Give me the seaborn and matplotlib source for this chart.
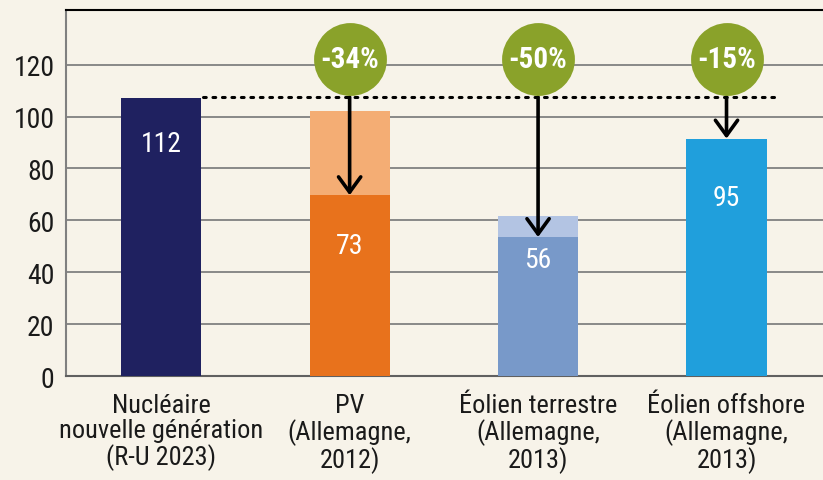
import numpy as np
import pandas as pd
import seaborn as sns
from matplotlib import pyplot as plt

# Data
categories = ["Nucléaire\nnouvelle génération\n(R-U 2023)",
              "PV\n(Allemagne,\n2012)",
              "Éolien terrestre\n(Allemagne,\n2013)",
              "Éolien offshore\n(Allemagne,\n2013)"]
before_height = [107.3, 102.0, 61.8, 91.5]   # light (earlier) level
after_height = [107.3, 69.7, 53.6, 91.5]     # dark (current) level
value_labels = ["112", "73", "56", "95"]
reduction_labels = ["-34%", "-50%", "-15%"]
reference_level = 107.5
yticks = [0, 20, 40, 60, 80, 100, 120]

# Styling
bg = "#f7f3e9"
dark_colors = ["#1f2160", "#e8721c", "#7899c9", "#209fdc"]
light_colors = ["#1f2160", "#f4ad74", "#b3c4e3", "#209fdc"]
green = "#8aa22a"
label_y = [89.5, 50.5, 45, 69]
circle_y = 122.3

sns.set_style("white")
plt.rcParams["font.family"] = ["Roboto Condensed", "DejaVu Sans"]

fig = plt.figure(figsize=(8.23, 4.81), dpi=100, facecolor=bg)
ax = fig.add_axes([0.080, 0.2156, 0.92, 0.7615])
ax.set_facecolor(bg)

df = pd.DataFrame({"cat": categories, "before": before_height, "after": after_height})
sns.barplot(data=df, x="cat", y="before", hue="cat", palette=light_colors,
            width=0.425, legend=False, ax=ax, zorder=2, saturation=1, linewidth=0)
sns.barplot(data=df, x="cat", y="after", hue="cat", palette=dark_colors,
            width=0.425, legend=False, ax=ax, zorder=3, saturation=1, linewidth=0)

ax.set_xlim(-0.506, 3.512)
ax.set_ylim(0, 141)
ax.set_yticks(yticks)
ax.yaxis.grid(True, color="#808080", lw=1.3, zorder=0)
ax.set_axisbelow(True)
ax.set_xlabel("")
ax.set_ylabel("")

ax.spines["right"].set_visible(False)
ax.spines["top"].set_color("black")
ax.spines["top"].set_linewidth(1.5)
ax.spines["left"].set_color("#808080")
ax.spines["left"].set_linewidth(1.5)
ax.spines["bottom"].set_color("#606060")
ax.spines["bottom"].set_linewidth(1.5)

ax.tick_params(axis="y", length=5, width=1.2, color="#808080", labelsize=20, pad=3,
               labelcolor="#1a1a1a")
ax.tick_params(axis="x", length=0, labelsize=19, pad=12, labelcolor="#1a1a1a")
for t in ax.get_xticklabels():
    t.set_linespacing(1.05)
ax.set_xticks([0.5, 1.5, 2.5], minor=True)
ax.tick_params(axis="x", which="minor", length=5, width=1.2, color="#808080")

# value labels inside bars
for i, lab in enumerate(value_labels):
    ax.text(i, label_y[i], lab, ha="center", va="center", color="white",
            fontsize=20, zorder=5)

# dotted reference line
ax.plot([0.22, 3.25], [reference_level, reference_level], color="black",
        lw=2.2, linestyle=(0, (0.9, 2.2)), dash_capstyle="round", zorder=4)

# arrows and green circles
arrow_x = [1, 2, 3]
for j, x in enumerate(arrow_x):
    ax.annotate("", xy=(x, after_height[x]), xytext=(x, reference_level),
                arrowprops=dict(arrowstyle="->,head_length=1.1,head_width=0.8",
                                color="black", lw=2.6, shrinkA=0, shrinkB=0),
                zorder=6)
ax.scatter(arrow_x, [circle_y] * 3, s=2750, color=green, zorder=7, linewidths=0)
for j, x in enumerate(arrow_x):
    ax.text(x, circle_y, reduction_labels[j], ha="center", va="center", color="white",
            fontsize=21, fontweight="bold", zorder=8)

fig.savefig("out.png", dpi=100, facecolor=bg)
